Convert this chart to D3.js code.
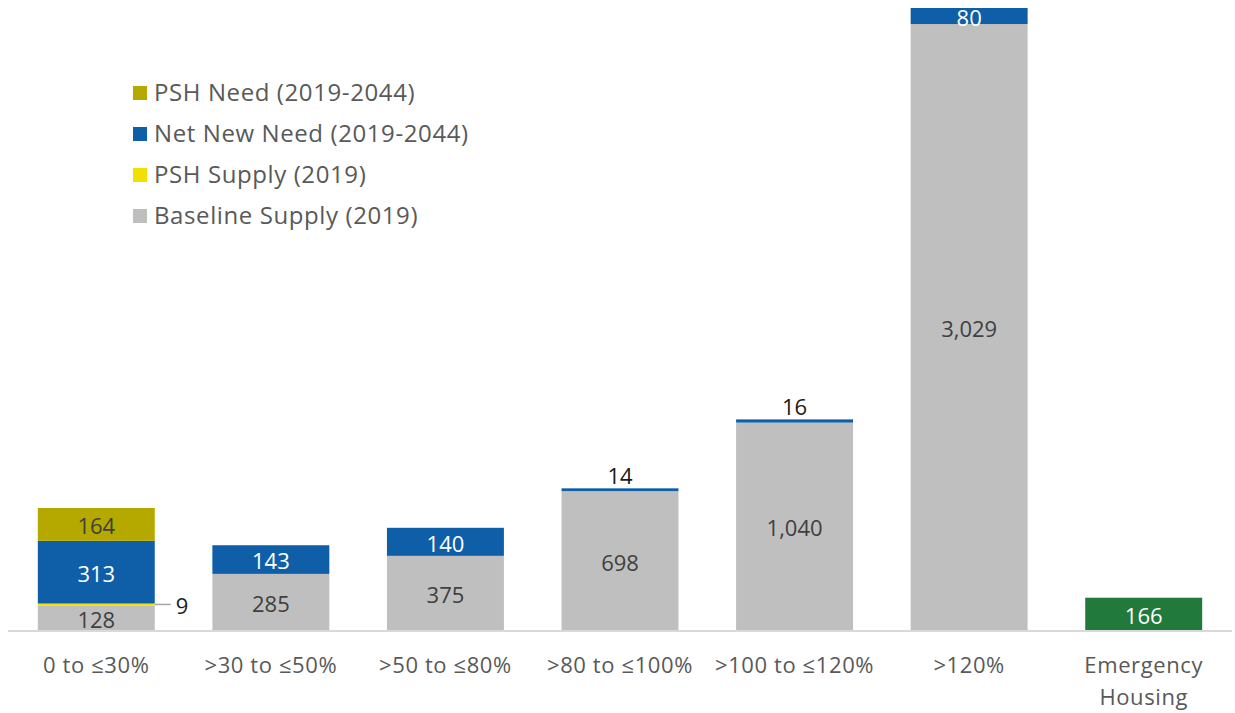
<!DOCTYPE html>
<html>
<head>
<meta charset="utf-8">
<script src="https://cdn.jsdelivr.net/npm/d3@7"></script>
<style>
  body { margin: 0; background: #fff; }
  text { font-family: "Open Sans", "Noto Sans", sans-serif; }
</style>
</head>
<body>
<svg id="chart" width="1235" height="713"></svg>
<script>
// data
var categories = ["0 to \u226430%", ">30 to \u226450%", ">50 to \u226480%", ">80 to \u2264100%", ">100 to \u2264120%", ">120%", "Emergency Housing"];
var baselineSupply = [128, 285, 375, 698, 1040, 3029, 0];
var pshSupply = [9, 0, 0, 0, 0, 0, 0];
var netNewNeed = [313, 143, 140, 14, 16, 80, 0];
var pshNeed = [164, 0, 0, 0, 0, 0, 0];
var emergency = [0, 0, 0, 0, 0, 0, 166];

var seriesNames = ["Baseline Supply (2019)", "PSH Supply (2019)", "Net New Need (2019-2044)", "PSH Need (2019-2044)", "Emergency Housing"];
var colors = ["#bfbfbf", "#f2e100", "#0f5fa8", "#b5a900", "#217a3c"];
var labelColors = ["#404040", "#404040", "#ffffff", "#404040", "#ffffff"];
var legendOrder = [3, 2, 1, 0];

var svg = d3.select("#chart"),
    margin = {left: 9, right: 4, top: 8, bottom: 82},
    width = +svg.attr("width"),
    height = +svg.attr("height");

var rows = categories.map(function(c, i) {
  return {cat: c, s0: baselineSupply[i], s1: pshSupply[i], s2: netNewNeed[i], s3: pshNeed[i], s4: emergency[i]};
});
var keys = ["s0", "s1", "s2", "s3", "s4"];
var stacked = d3.stack().keys(keys)(rows);

var x = d3.scaleBand().domain(categories)
    .range([margin.left, width - margin.right])
    .paddingInner(0.33).paddingOuter(0.165);

var y = d3.scaleLinear().domain([0, 3109])
    .range([height - margin.bottom, margin.top]);

var g = svg.append("g");

stacked.forEach(function(layer, k) {
  g.append("g").selectAll("rect")
    .data(layer.filter(function(d) { return d[1] - d[0] > 0; }))
    .enter().append("rect")
      .attr("x", function(d) { return x(d.data.cat); })
      .attr("width", x.bandwidth())
      .attr("y", function(d) { return y(d[1]); })
      .attr("height", function(d) { return y(d[0]) - y(d[1]); })
      .attr("fill", colors[k]);
});

// axis line
svg.append("line")
    .attr("x1", margin.left - 1).attr("x2", width - margin.right + 1)
    .attr("y1", y(0)).attr("y2", y(0))
    .attr("stroke", "#d9d9d9").attr("stroke-width", 2);

// value labels
var fmt = d3.format(",");
stacked.forEach(function(layer, k) {
  layer.forEach(function(d, i) {
    var v = d[1] - d[0];
    if (v <= 0) return;
    var h = y(d[0]) - y(d[1]);
    var cx = x(d.data.cat) + x.bandwidth() / 2;
    if (k === 1) {
      // small PSH supply: leader line to the right
      var ly = y(d[0] + v / 2);
      svg.append("line")
        .attr("x1", x(d.data.cat) + x.bandwidth()).attr("x2", x(d.data.cat) + x.bandwidth() + 16)
        .attr("y1", ly).attr("y2", ly)
        .attr("stroke", "#a6a6a6").attr("stroke-width", 1.5);
      svg.append("text")
        .attr("x", x(d.data.cat) + x.bandwidth() + 21).attr("y", ly + 2)
        .attr("dy", "0.35em").attr("font-size", 22).attr("fill", "#1a1a1a")
        .text(fmt(v));
      return;
    }
    if (h < 10) {
      svg.append("text")
        .attr("x", cx).attr("y", y(d[1]) - 12)
        .attr("dy", "0.35em").attr("text-anchor", "middle")
        .attr("font-size", 22).attr("fill", "#1a1a1a")
        .text(fmt(v));
      return;
    }
    svg.append("text")
      .attr("x", cx).attr("y", (y(d[0]) + y(d[1])) / 2 + 2)
      .attr("dy", "0.35em").attr("text-anchor", "middle")
      .attr("font-size", 22).attr("fill", labelColors[k])
      .text(fmt(v));
  });
});

// category labels
var xAxis = svg.append("g");
categories.forEach(function(c) {
  var t = xAxis.append("text")
    .attr("x", x(c) + x.bandwidth() / 2)
    .attr("y", y(0) + 42)
    .attr("text-anchor", "middle")
    .attr("font-size", 22).attr("letter-spacing", 0.6).attr("fill", "#595959");
  var parts = c === "Emergency Housing" ? ["Emergency", "Housing"] : [c];
  parts.forEach(function(p, j) {
    t.append("tspan").attr("x", x(c) + x.bandwidth() / 2).attr("dy", j === 0 ? 0 : 32).text(p);
  });
});

// legend
var legend = svg.append("g").attr("transform", "translate(133,93)");
legendOrder.forEach(function(k, j) {
  var row = legend.append("g").attr("transform", "translate(0," + (j * 41) + ")");
  row.append("rect").attr("x", 0).attr("y", -7).attr("width", 14).attr("height", 14).attr("fill", colors[k]);
  row.append("text").attr("x", 21).attr("y", 0).attr("dy", "0.35em")
    .attr("font-size", 24).attr("letter-spacing", 0.6).attr("fill", "#595959").text(seriesNames[k]);
});
</script>
</body>
</html>
